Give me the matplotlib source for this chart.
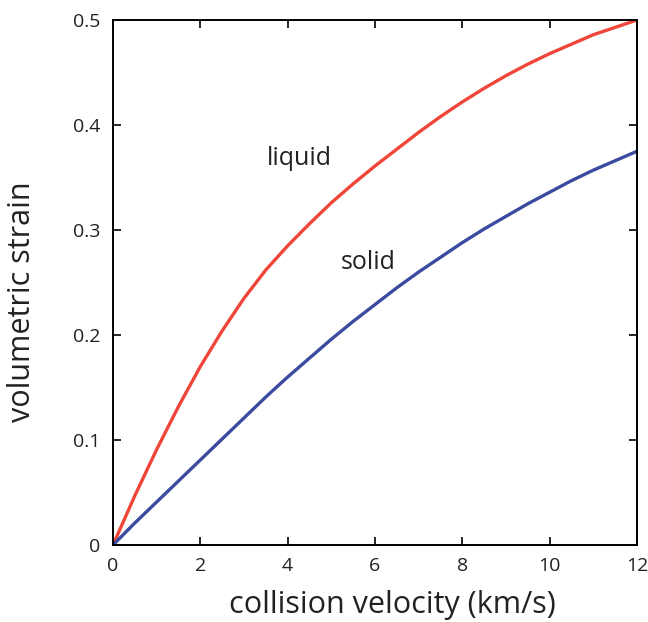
import matplotlib.pyplot as plt

plt.rcParams['font.family'] = ['Open Sans', 'DejaVu Sans']

# collision velocity (km/s)
velocity = [0, 0.5, 1, 1.5, 2, 2.5, 3, 3.5, 4, 4.5, 5, 5.5, 6, 6.5,
            7, 7.5, 8, 8.5, 9, 9.5, 10, 10.5, 11, 11.5, 12]
# volumetric strain
liquid = [0, 0.047, 0.091, 0.132, 0.170, 0.204, 0.235, 0.262, 0.285, 0.306,
          0.326, 0.344, 0.361, 0.377, 0.393, 0.408, 0.422, 0.435, 0.447,
          0.458, 0.468, 0.477, 0.486, 0.493, 0.500]
solid = [0, 0.021, 0.041, 0.061, 0.081, 0.101, 0.121, 0.141, 0.160, 0.178,
         0.196, 0.213, 0.229, 0.245, 0.260, 0.274, 0.288, 0.301, 0.313,
         0.325, 0.336, 0.347, 0.357, 0.366, 0.375]

xticks = [0, 2, 4, 6, 8, 10, 12]
yticks = [0, 0.1, 0.2, 0.3, 0.4, 0.5]
ytick_labels = ['0', '0.1', '0.2', '0.3', '0.4', '0.5']

fig = plt.figure(figsize=(6.48, 6.22), dpi=100)
ax = fig.add_axes([0.1744, 0.1238, 0.8086, 0.844])

ax.plot(velocity, liquid, color='#f0463a', linewidth=2.4, solid_capstyle='round')
ax.plot(velocity, solid, color='#3b4ca0', linewidth=2.4, solid_capstyle='round')

ax.text(4.27, 0.368, 'liquid', fontsize=18, color='#222222', ha='center', va='center')
ax.text(5.84, 0.269, 'solid', fontsize=18, color='#222222', ha='center', va='center')

ax.set_xlim(0, 12)
ax.set_ylim(0, 0.5)
ax.set_xticks(xticks)
ax.set_xticklabels([str(t) for t in xticks])
ax.set_yticks(yticks)
ax.set_yticklabels(ytick_labels)
ax.tick_params(direction='in', length=6, width=1.2, top=True, right=True,
               labelsize=14, labelcolor='#222222', pad=9)

for s in ax.spines.values():
    s.set_linewidth(1.4)

ax.set_xlabel('collision velocity (km/s)', fontsize=22, color='#222222',
              ha='center', va='center')
ax.set_ylabel('volumetric strain', fontsize=22, color='#222222',
              ha='center', va='center')
ax.xaxis.set_label_coords(0.534, -0.114)
ax.yaxis.set_label_coords(-0.174, 0.463)

plt.savefig('out.png', dpi=100)
